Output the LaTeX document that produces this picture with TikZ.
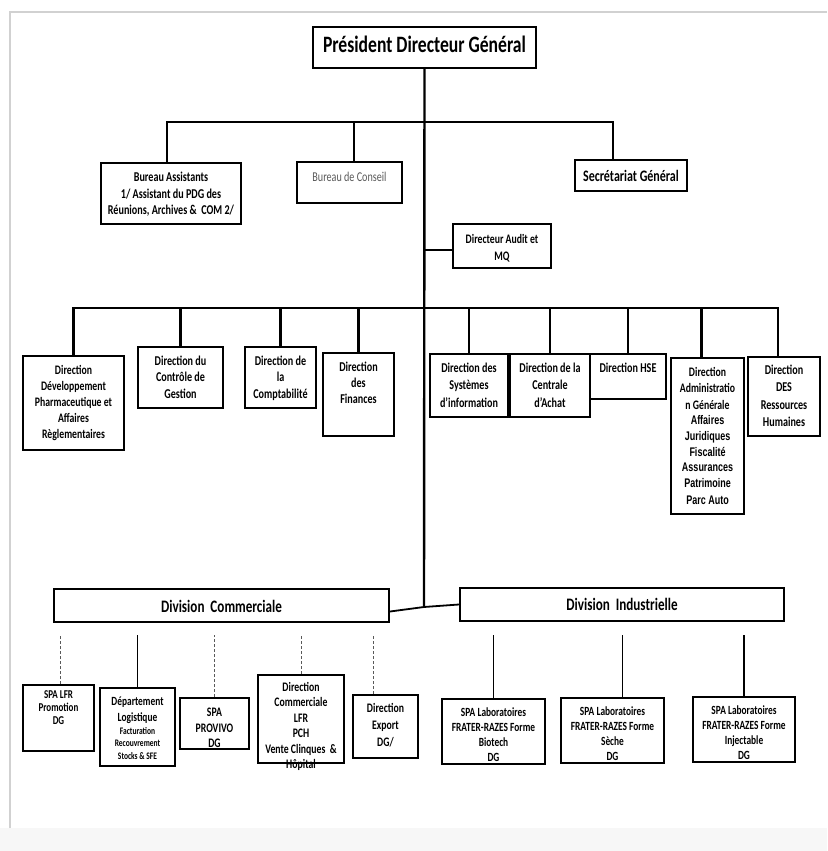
\documentclass[tikz,border=0pt]{standalone}
\usepackage{fontspec}
\setmainfont{Carlito}[FakeStretch=0.75]
\newfontfamily\arialn{Liberation Sans}[FakeStretch=0.72]
\newcommand\pb[4][4]{\parbox[c][#3pt][t]{#2pt}{\centering\vspace*{#1pt}#4\par}}
\newcommand\fs[2]{\fontsize{#1pt}{#2pt}\selectfont}
\begin{document}
\begin{tikzpicture}[x=1pt,y=-1pt,
  bx/.style={draw=black, line width=2pt, inner sep=0pt, anchor=north west, text=black},
  conn/.style={line width=2.4pt, black},
  dconn/.style={line width=0.8pt, dash pattern=on 3pt off 2pt, black!65},
  frame/.style={line width=1.2pt, black!18}]
\useasboundingbox (0,0) rectangle (827,851);
\fill[black!3] (0,828) rectangle (827,851);
\draw[frame] (10,828) -- (10,12) -- (827,12);

% top level
\node[bx] (pdg) at (312,26) {\pb[9]{223}{41}{\fs{23.5}{28}\bfseries Président Directeur Général}};
\node[bx] (ba) at (100,162) {\pb[9]{140}{61}{\fs{13.5}{16.7}\bfseries Bureau Assistants\\1/ Assistant du PDG des\\Réunions, Archives \&\ \ COM 2/}};
\node[bx] (bc) at (296,161) {\pb[10]{105}{41}{\fs{13.5}{17}\color{black!65}Bureau de Conseil}};
\node[bx] (sg) at (574,159) {\pb[10]{112}{31}{\fs{16}{18}\bfseries Secrétariat Général}};
\node[bx] (audit) at (452,223) {\pb[10]{98}{44}{\fs{13}{17}\bfseries Directeur Audit et\\MQ}};

% directions
\node[bx] (d1) at (22,355) {\pb[9]{101}{94}{\fs{13}{16.2}\bfseries Direction\\Développement\\Pharmaceutique et\\Affaires\\Règlementaires}};
\node[bx] (d2) at (137,346) {\pb[9]{85}{61}{\fs{13.5}{16.5}\bfseries Direction du\\Contrôle de\\Gestion}};
\node[bx] (d3) at (244,346) {\pb[9]{71}{61}{\fs{13.5}{16.5}\bfseries Direction de\\la\\Comptabilité}};
\node[bx] (d4) at (322,352) {\pb[9]{71}{83}{\fs{13.5}{16}\bfseries Direction\\des\\Finances}};
\node[bx] (d5) at (429,353) {\pb[9]{78}{63}{\fs{13.5}{17.5}\bfseries Direction des\\Systèmes\\d’information}};
\node[bx] (d6) at (509,353) {\pb[9]{80}{63}{\fs{13.5}{17.5}\bfseries Direction de la\\Centrale\\d’Achat}};
\node[bx] (d7) at (589,353) {\pb[9]{76}{45}{\fs{13.5}{17}\bfseries Direction HSE}};
\node[bx] (d8) at (670,357) {\pb[9]{73}{156}{\fs{13}{16.5}\bfseries Direction\\Administratio\\n\ Générale\\{\arialn\fs{12.5}{15.7}Affaires\\Juridiques\\Fiscalité\\Assurances\\Patrimoine\\Parc Auto}}};
\node[bx] (d9) at (747,356) {\pb[8]{72}{79}{\fs{13.5}{17.3}\bfseries Direction\\DES\\Ressources\\Humaines}};

% divisions
\node[bx] (dc) at (53,588) {\pb[11]{335}{33}{\fs{17.5}{20}\bfseries Division\ \ Commerciale}};
\node[bx] (di) at (459,587) {\pb[10]{324}{33}{\fs{17.5}{20}\bfseries Division\ \ Industrielle}};

% commercial units
\node[bx] (c1) at (22,684) {\pb[6]{71}{66}{\fs{12}{13}\bfseries SPA LFR\\Promotion\\DG}};
\node[bx] (c2) at (99,687) {\pb[9]{75}{78}{\fs{12.5}{16}\bfseries Département\\Logistique\\\fs{10}{12.5}Facturation\\Recouvrement\\Stocks \& SFE}};
\node[bx] (c3) at (179,697) {\pb[10]{69}{51}{\fs{13}{15.5}\bfseries SPA\\PROVIVO\\DG}};
\node[bx] (c4) at (257,674) {\pb[7]{86}{88}{\fs{13}{15.5}\bfseries Direction\\Commerciale\\LFR\\PCH\\Vente Clinques\ \ \&\\Hôpital}};
\node[bx] (c5) at (352,694) {\pb[8]{65}{63}{\fs{13}{17}\bfseries Direction\\Export\\DG/}};

% industrial units
\node[bx] (i1) at (441,698) {\pb[9]{103}{65}{\fs{12.5}{15}\bfseries SPA Laboratoires\\FRATER-RAZES Forme\\Biotech\\DG}};
\node[bx] (i2) at (560,697) {\pb[9]{103}{65}{\fs{12.5}{15}\bfseries SPA Laboratoires\\FRATER-RAZES Forme\\Sèche\\DG}};
\node[bx] (i3) at (692,696) {\pb[9]{102}{65}{\fs{12.5}{15}\bfseries SPA Laboratoires\\FRATER-RAZES Forme\\Injectable\\DG}};

% coordinates
\coordinate (b1) at (424,122);
\coordinate (b2) at (424,308);
\coordinate (tb) at (424,607);
\coordinate (g) at (0,635);

% connectors
\draw[conn] (pdg.south) -- (tb);
\draw[conn] ([xshift=-4]ba.north) |- (b1) -| ([xshift=-18]sg.north);
\draw[conn] ([xshift=4.5]bc.north) -- ([xshift=4.5]bc.north |- b1);
\draw[conn] ([yshift=-4]audit.west) -- ([yshift=-4]audit.west -| b1);
\draw[conn] (d1.north) |- (b2) -| ([xshift=-6]d9.north);
\foreach \n in {d2,d3,d4,d5,d6,d7} \draw[conn] (\n.north) -- (\n.north |- b2);
\draw[conn] ([xshift=-6]d8.north) -- ([xshift=-6]d8.north |- b2);
\draw[line width=1.8pt] ([yshift=-6]dc.east) -- (tb) -- (di.west);

\draw[dconn] ([xshift=1.5]c1.north) -- ([xshift=1.5]c1.north |- g);
\draw[line width=1.3pt] (c2.north) -- (c2.north |- g);
\draw[dconn] (c3.north) -- (c3.north |- g);
\draw[dconn] (c4.north) -- (c4.north |- g);
\draw[dconn] ([xshift=-12]c5.north) -- ([xshift=-12]c5.north |- g);

\draw[line width=1.3pt] (i1.north) -- (i1.north |- g);
\draw[line width=1.3pt] ([xshift=10]i2.north) -- ([xshift=10]i2.north |- g);
\draw[line width=1.3pt] (i3.north) -- (i3.north |- g);
\end{tikzpicture}
\end{document}
